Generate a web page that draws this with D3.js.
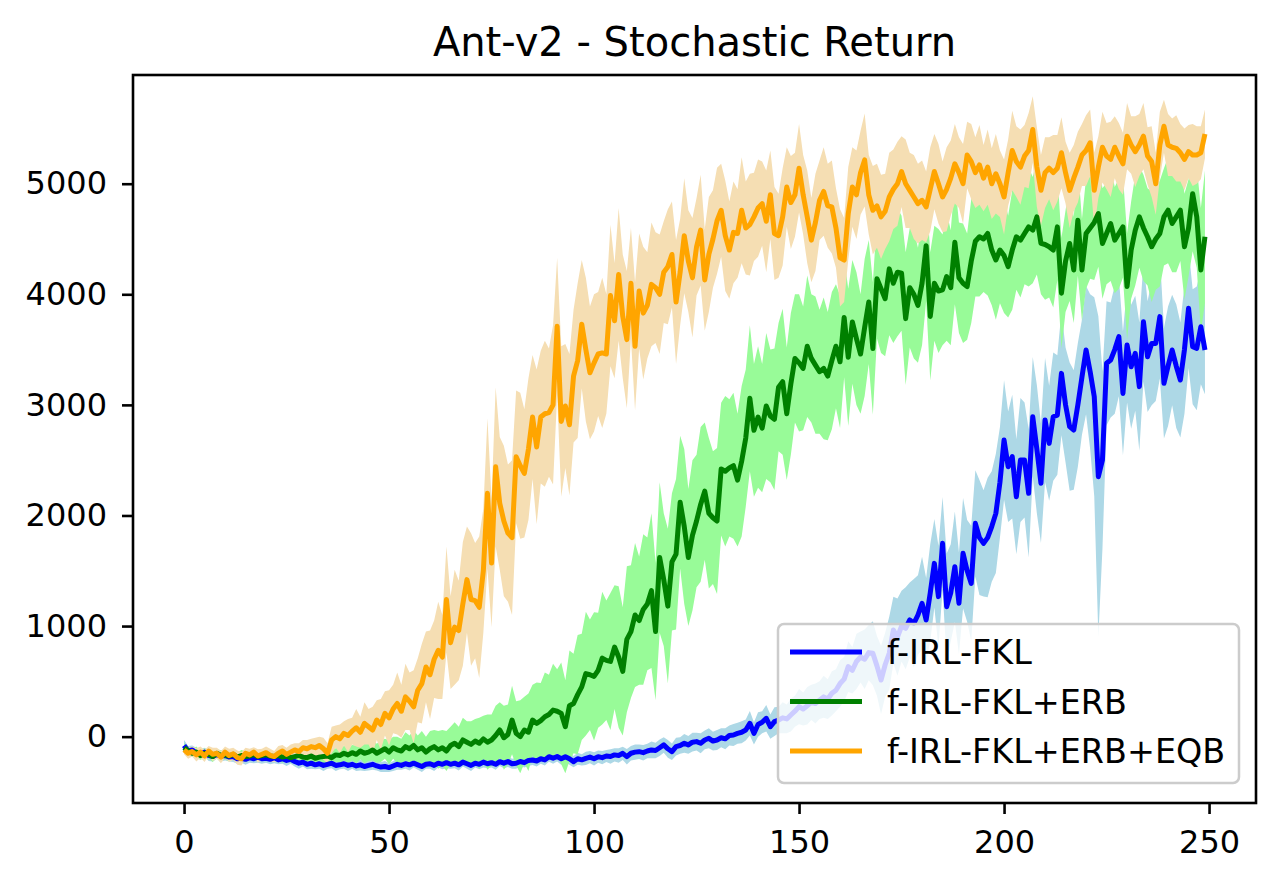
<!DOCTYPE html>
<html lang="en">
<head>
  <meta charset="UTF-8">
  <title>Ant-v2 - Stochastic Return</title>
  <script src="https://d3js.org/d3.v7.min.js" charset="utf-8"></script>
  <style>
    body { margin: 0; background: #fff; }
    text { font-family: "DejaVu Sans", sans-serif; fill: #000; }
  </style>
</head>
<body>
<script>
  const chartTitle = 'Ant-v2 - Stochastic Return'
  const seriesNames = ['f-IRL-FKL', 'f-IRL-FKL+ERB', 'f-IRL-FKL+ERB+EQB']
  const xTicks = [0, 50, 100, 150, 200, 250]
  const yTicks = [0, 1000, 2000, 3000, 4000, 5000]

  // f-IRL-FKL (blue)
  const fklMean = [
    -80,-130,-120,-150,-160,-140,-170,-180,-160,-175,
    -170,-185,-180,-200,-195,-205,-190,-200,-185,-200,
    -195,-205,-190,-210,-200,-215,-205,-225,-240,-230,
    -250,-240,-255,-245,-260,-250,-240,-260,-255,-245,
    -260,-250,-265,-255,-270,-260,-250,-265,-275,-270,
    -280,-265,-250,-260,-245,-255,-240,-255,-270,-250,
    -245,-260,-240,-250,-235,-250,-240,-255,-230,-245,
    -260,-240,-250,-230,-245,-235,-250,-226,-240,-225,
    -245,-241,-225,-235,-215,-211,-220,-200,-210,-181,
    -195,-180,-200,-181,-200,-226,-200,-210,-196,-185,
    -200,-181,-190,-175,-180,-165,-170,-151,-181,-150,
    -140,-136,-145,-130,-120,-125,-100,-75,-110,-136,
    -90,-80,-60,-75,-50,-45,-60,-30,-15,-40,
    -30,-10,-20,10,15,30,40,60,121,30,
    110,130,166,90,136,150,170,160,196,230,
    271,250,280,310,300,330,360,340,392,420,
    480,520,633,600,680,720,700,760,754,640,
    512,650,754,964,900,1000,980,1055,1025,1100,
    1206,1055,1300,1567,1266,1748,1175,1300,1537,1206,
    1658,1500,1386,1929,1800,1748,1800,1900,2019,2300,
    2682,2441,2532,2170,2502,2502,2200,2893,2600,2291,
    2863,2652,2893,2908,3285,3000,2803,2773,3000,3250,
    3496,3300,3074,2351,2502,3376,3406,3500,3617,3104,
    3541,3345,3466,3165,3752,3436,3556,3556,3798,3195,
    3350,3496,3350,3225,3500,3873,3526,3511,3707,3496
  ]
  const fklSpread = [
    50,45,40,50,45,40,50,45,40,50,
    45,40,50,45,40,50,45,40,50,45,
    40,45,50,40,45,50,40,45,50,40,
    45,50,40,45,50,40,45,50,40,45,
    50,40,45,50,40,45,50,40,45,50,
    40,45,50,40,45,50,40,45,50,40,
    45,50,40,45,50,40,45,50,40,45,
    50,40,45,50,40,45,50,40,45,50,
    45,50,40,45,50,45,50,45,50,45,
    50,45,55,50,55,50,55,50,60,55,
    60,55,60,55,65,60,65,60,70,65,
    70,65,70,65,75,70,75,70,80,75,
    80,75,85,80,85,80,90,85,90,85,
    90,85,95,90,100,95,100,95,110,100,
    110,100,120,110,130,120,140,130,150,140,
    160,150,170,160,180,170,190,180,200,190,
    210,200,230,210,250,230,270,250,290,270,
    310,290,330,300,350,320,370,340,400,360,
    420,380,440,400,460,420,480,440,500,460,
    500,460,520,480,520,480,540,500,540,500,
    540,500,560,520,560,520,580,540,580,540,
    560,520,580,540,560,520,580,540,560,520,
    580,700,900,1450,800,560,520,580,540,560,
    520,560,520,580,540,500,560,520,560,500,
    540,500,560,520,580,540,520,560,520,400
  ]

  // f-IRL-FKL+ERB (green)
  const erbMean = [
    -100,-130,-150,-140,-170,-150,-160,-180,-150,-170,
    -165,-175,-160,-185,-170,-180,-175,-160,-180,-170,
    -165,-175,-180,-170,-185,-175,-190,-180,-170,-185,
    -190,-175,-195,-185,-180,-175,-190,-165,-170,-150,
    -165,-145,-160,-130,-150,-140,-120,-150,-130,-110,
    -140,-100,-120,-130,-90,-110,-80,-120,-100,-140,
    -110,-90,-120,-100,-130,-80,-60,-90,-30,-50,
    -70,-40,-60,-20,-50,-30,10,60,-10,20,
    150,30,0,60,40,150,120,145,180,200,
    240,230,210,90,280,300,380,450,570,560,
    545,600,710,690,680,810,720,590,880,950,
    1100,1050,1150,1200,1320,950,1620,1420,1180,1580,
    1650,2120,1900,1620,1820,1950,2100,2220,2020,1980,
    1950,2420,2400,2430,2450,2320,2490,2700,3060,2770,
    2890,2790,2990,2900,2870,3160,3210,2920,3190,3420,
    3380,3330,3530,3420,3360,3300,3330,3260,3400,3530,
    3390,3790,3430,3750,3600,3460,3700,3930,3510,4140,
    4050,3960,4230,4100,4200,4190,3780,4060,4000,3900,
    4100,4440,3800,4100,4030,4040,4160,4060,4470,4150,
    4100,4070,4300,4480,4520,4500,4550,4400,4310,4400,
    4350,4250,4400,4520,4490,4550,4610,4580,4700,4460,
    4450,4430,4400,4610,4010,4300,4460,4220,4670,4220,
    4550,4600,4650,4730,4460,4550,4640,4490,4550,4610,
    4070,4400,4580,4700,4600,4520,4430,4500,4550,4700,
    4760,4640,4700,4760,4430,4600,4910,4700,4220,4520
  ]
  const erbSpread = [
    40,45,35,50,40,45,35,50,40,45,
    40,50,45,40,50,45,40,50,45,40,
    45,50,40,45,50,40,45,50,40,45,
    50,45,55,50,60,55,65,60,70,65,
    75,70,80,75,90,80,95,85,100,90,
    110,100,120,110,130,120,140,130,150,140,
    160,150,170,160,180,170,190,180,200,190,
    210,200,230,210,250,230,270,250,290,270,
    310,290,330,300,350,320,370,340,400,360,
    420,380,460,420,500,450,540,480,560,500,
    580,520,600,540,620,560,640,580,660,600,
    650,580,680,600,700,620,680,600,700,620,
    680,600,700,620,680,600,700,620,680,600,
    660,600,680,620,660,600,680,620,660,600,
    640,580,660,600,640,580,660,600,640,580,
    620,560,640,580,620,560,640,580,620,560,
    600,540,620,560,600,540,620,560,600,540,
    580,520,600,540,580,520,600,540,580,520,
    560,500,580,520,560,500,580,520,560,500,
    540,480,560,500,540,480,560,500,540,480,
    520,460,540,480,520,460,540,480,520,460,
    500,460,520,480,500,460,520,480,500,460,
    500,460,520,480,500,460,520,480,500,460,
    480,440,500,460,480,440,500,460,480,440,
    480,440,500,460,480,440,520,460,560,600
  ]

  // f-IRL-FKL+ERB+EQB (orange)
  const eqbMean = [
    -120,-150,-135,-165,-140,-175,-130,-160,-150,-185,
    -140,-170,-155,-190,-200,-150,-165,-140,-175,-160,
    -145,-170,-180,-150,-130,-160,-140,-120,-135,-100,
    -110,-90,-100,-80,-110,-150,-30,0,-20,30,
    10,50,80,40,120,90,60,150,110,210,
    170,250,300,230,360,320,270,420,480,630,
    560,700,780,720,1240,850,990,960,1200,1420,
    1240,1230,1170,1500,2200,1570,2440,2110,1950,1840,
    1800,2530,2450,2380,2600,2890,2620,2890,2920,2930,
    3000,3710,2850,2990,2820,3260,3400,3730,3500,3290,
    3380,3460,3470,3460,3990,3760,4180,3800,3590,4100,
    3530,4030,3830,3900,4090,4060,4000,4200,4250,4360,
    3930,4200,4530,4300,4150,4430,4580,4130,4360,4500,
    4665,4760,4530,4400,4560,4550,4760,4600,4630,4700,
    4780,4820,4660,4900,4550,4530,4700,4970,4830,4900,
    5140,4900,4700,4490,4650,4850,4930,4800,4790,4600,
    4330,4310,4730,4970,4900,5100,5215,4900,4760,4800,
    4700,4750,4880,4950,5000,5110,5000,4940,4880,4820,
    4850,4790,4950,5110,5000,4880,4950,5050,5180,5100,
    5000,5260,5200,5100,5170,5050,5150,5000,5090,5000,
    4880,5100,5300,5200,5150,5250,5300,5490,5150,4940,
    5100,5140,5100,5140,5280,5100,4940,5050,5150,5260,
    5300,5370,4940,5150,5330,5250,5220,5330,5250,5180,
    5430,5350,5290,5350,5430,5250,5200,5000,5350,5520,
    5350,5330,5320,5280,5220,5290,5260,5260,5280,5450
  ]
  const eqbSpread = [
    40,50,45,60,50,55,45,60,50,55,
    50,60,55,65,60,50,55,45,60,50,
    55,60,50,65,55,60,70,60,75,70,
    80,70,90,80,100,90,120,100,130,110,
    150,120,170,140,190,160,210,180,230,200,
    250,220,280,240,300,260,330,290,360,320,
    400,350,440,380,480,420,520,450,560,480,
    600,520,640,560,680,580,720,600,680,620,
    700,600,660,580,640,560,700,600,660,580,
    720,620,680,560,640,600,700,580,650,600,
    620,560,680,540,640,520,600,560,620,500,
    580,520,600,480,560,500,540,460,520,480,
    560,480,520,460,540,440,500,460,520,440,
    480,420,500,440,460,400,480,420,460,400,
    440,380,460,400,420,380,440,360,420,380,
    400,360,420,380,440,360,400,380,420,360,
    440,380,420,360,400,380,420,360,400,380,
    380,340,400,360,380,320,400,340,380,360,
    360,320,380,340,360,320,380,340,360,320,
    360,300,340,320,360,300,340,320,360,300,
    340,300,360,320,340,280,340,300,360,320,
    320,280,340,300,320,280,340,300,320,280,
    320,300,340,280,320,300,340,280,300,280,
    300,260,320,280,300,260,320,280,300,240,
    280,260,300,260,280,240,280,260,240,220
  ]

  const series = [
    { name: seriesNames[0], mean: fklMean, spread: fklSpread, line: '#0000ff', fill: '#add8e6' },
    { name: seriesNames[1], mean: erbMean, spread: erbSpread, line: '#008000', fill: '#98fb98' },
    { name: seriesNames[2], mean: eqbMean, spread: eqbSpread, line: '#ffa500', fill: '#f5deb3' }
  ]

  const W = 1280, H = 885
  const plot = { left: 133, right: 1256, top: 75, bottom: 803 }

  const svg = d3.select('body').append('svg').attr('width', W).attr('height', H)

  const x = d3.scaleLinear().domain([-12.45, 261.45]).range([plot.left, plot.right])
  const y = d3.scaleLinear().domain([-600, 5983]).range([plot.bottom, plot.top])

  svg.append('clipPath').attr('id', 'clip')
    .append('rect')
    .attr('x', plot.left).attr('y', plot.top)
    .attr('width', plot.right - plot.left).attr('height', plot.bottom - plot.top)

  const g = svg.append('g').attr('clip-path', 'url(#clip)')

  const area = d3.area()
    .x((d, i) => x(i))
    .y0(d => y(d[0] - d[1]))
    .y1(d => y(d[0] + d[1]))

  const line = d3.line()
    .x((d, i) => x(i))
    .y(d => y(d))

  // bands first, then the mean lines
  series.forEach(s => {
    const pts = s.mean.map((m, i) => [m, s.spread[i]])
    g.append('path')
      .attr('d', area(pts))
      .attr('fill', s.fill)
      .attr('stroke', 'none')
  })
  series.forEach(s => {
    g.append('path')
      .attr('d', line(s.mean))
      .attr('fill', 'none')
      .attr('stroke', s.line)
      .attr('stroke-width', 5)
      .attr('stroke-linejoin', 'round')
  })

  // axes
  const xAxis = svg.append('g')
    .attr('transform', `translate(0,${plot.bottom})`)
    .call(d3.axisBottom(x).tickValues(xTicks).tickSize(11).tickPadding(16).tickSizeOuter(0))
  const yAxis = svg.append('g')
    .attr('transform', `translate(${plot.left},0)`)
    .call(d3.axisLeft(y).tickValues(yTicks).tickSize(11).tickPadding(15).tickSizeOuter(0).tickFormat(d3.format('d')))

  ;[xAxis, yAxis].forEach(a => {
    a.select('.domain').remove()
    a.selectAll('.tick line').attr('stroke', '#000').attr('stroke-width', 2.6)
    a.selectAll('.tick text')
      .style('font-family', '"DejaVu Sans", sans-serif')
      .style('font-size', '32px')
      .attr('fill', '#000')
  })

  svg.append('rect')
    .attr('x', plot.left).attr('y', plot.top)
    .attr('width', plot.right - plot.left).attr('height', plot.bottom - plot.top)
    .attr('fill', 'none')
    .attr('stroke', '#000')
    .attr('stroke-width', 2.6)

  svg.append('text')
    .attr('x', (plot.left + plot.right) / 2)
    .attr('y', 56)
    .attr('text-anchor', 'middle')
    .style('font-size', '40px')
    .text(chartTitle)

  // legend
  const legend = svg.append('g')
  legend.append('rect')
    .attr('x', 778).attr('y', 624)
    .attr('width', 461).attr('height', 159)
    .attr('rx', 6)
    .attr('fill', '#fff')
    .attr('fill-opacity', 0.8)
    .attr('stroke', '#cccccc')
    .attr('stroke-width', 2.5)

  series.forEach((s, i) => {
    const ly = 652 + i * 49.5
    legend.append('line')
      .attr('x1', 790).attr('x2', 862)
      .attr('y1', ly).attr('y2', ly)
      .attr('stroke', s.line)
      .attr('stroke-width', 5)
    legend.append('text')
      .attr('x', 887)
      .attr('y', ly)
      .attr('dy', '0.36em')
      .style('font-size', '33.4px')
      .text(s.name)
  })
</script>
</body>
</html>
